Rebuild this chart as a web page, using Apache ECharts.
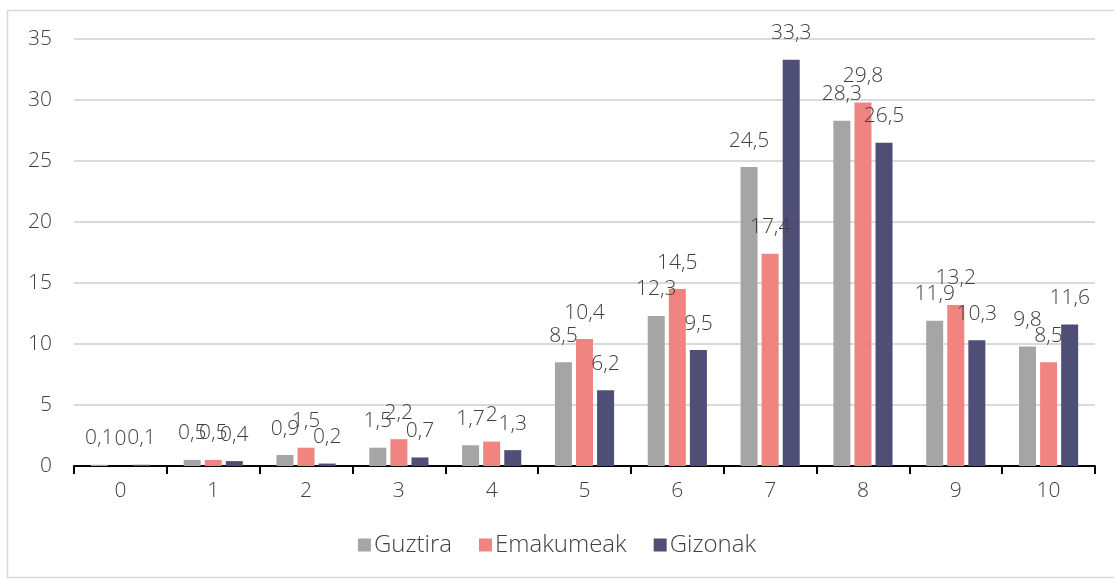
<!DOCTYPE html>
<html>
<head>
<meta charset="utf-8">
<script src="https://cdn.jsdelivr.net/npm/echarts@6/dist/echarts.min.js"></script>
<style>
  html, body { margin: 0; padding: 0; background: #fff; }
  #chart { width: 1114px; height: 581px; }
</style>
</head>
<body>
<div id="chart"></div>
<script>
// Score categories 0..10 and the share (%) per group
const categories = ['0', '1', '2', '3', '4', '5', '6', '7', '8', '9', '10'];
const guztira    = [0.1, 0.5, 0.9, 1.5, 1.7, 8.5, 12.3, 24.5, 28.3, 11.9, 9.8];
const emakumeak  = [0, 0.5, 1.5, 2.2, 2, 10.4, 14.5, 17.4, 29.8, 13.2, 8.5];
const gizonak    = [0.1, 0.4, 0.2, 0.7, 1.3, 6.2, 9.5, 33.3, 26.5, 10.3, 11.6];
const seriesNames = ['Guztira', 'Emakumeak', 'Gizonak'];

const FONT = '"Open Sans", Lato, sans-serif';
const WEIGHT = 300;
const TEXT = '#404040';
const colors = ['#A5A5A5', '#F08480', '#4F4E76'];

const fmt = p => String(p.value).replace('.', ',');

function barSeries(name, data, color) {
  return {
    name: name,
    type: 'bar',
    data: data,
    barWidth: 17,
    barGap: '24%',
    itemStyle: { color: color },
    label: {
      show: true,
      position: 'top',
      distance: 16,
      formatter: fmt,
      color: TEXT,
      fontFamily: FONT,
      fontWeight: WEIGHT,
      fontSize: 21
    }
  };
}

const chart = echarts.init(document.getElementById('chart'));
chart.setOption({
  animation: false,
  color: colors,
  textStyle: { fontFamily: FONT, fontWeight: WEIGHT },
  graphic: [{
    type: 'rect',
    shape: { x: 7.5, y: 10.5, width: 1120, height: 567 },
    style: { fill: 'none', stroke: '#D9D9D9', lineWidth: 1.5 },
    z: -1
  }],
  grid: { left: 74, right: 19, top: 39, bottom: 115 },
  legend: {
    data: seriesNames,
    bottom: 19,
    left: 'center',
    itemWidth: 13,
    itemHeight: 13,
    itemGap: 27,
    icon: 'rect',
    textStyle: { color: TEXT, fontFamily: FONT, fontWeight: WEIGHT, fontSize: 24, padding: [0, 0, 0, -2] }
  },
  xAxis: {
    type: 'category',
    data: categories,
    axisLine: { lineStyle: { color: '#000', width: 2 } },
    axisTick: { show: true, length: 8, lineStyle: { color: '#000', width: 2 } },
    axisLabel: { color: TEXT, fontFamily: FONT, fontWeight: WEIGHT, fontSize: 21, margin: 15 }
  },
  yAxis: {
    type: 'value',
    min: 0,
    max: 35,
    interval: 5,
    axisLine: { show: false },
    axisTick: { show: false },
    axisLabel: { color: TEXT, fontFamily: FONT, fontWeight: WEIGHT, fontSize: 21, margin: 22 },
    splitLine: { lineStyle: { color: '#DADADA', width: 2 } }
  },
  series: [
    barSeries(seriesNames[0], guztira, colors[0]),
    barSeries(seriesNames[1], emakumeak, colors[1]),
    barSeries(seriesNames[2], gizonak, colors[2])
  ]
});
</script>
</body>
</html>
